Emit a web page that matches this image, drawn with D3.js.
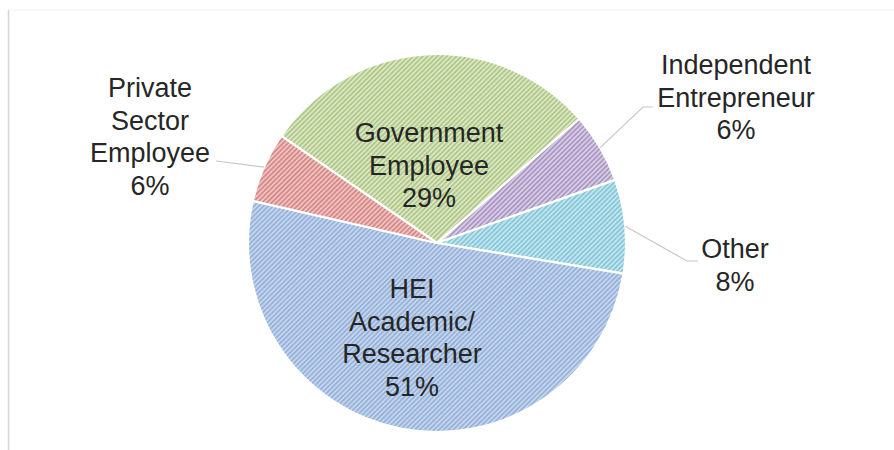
<!DOCTYPE html>
<html>
<head>
<meta charset="utf-8">
<script src="https://cdn.jsdelivr.net/npm/d3@7"></script>
<style>
  body { margin: 0; background: #fff; }
  svg { display: block; }
  text { font-family: "Liberation Sans", Arial, sans-serif; fill: #262626; }
</style>
</head>
<body>
<svg width="894" height="450"></svg>
<script>
// data, clockwise from the Government slice
var categories = ["Government Employee", "Independent Entrepreneur", "Other", "HEI Academic/ Researcher", "Private Sector Employee"];
var values = [29, 6, 8, 51, 6];
var labelLines = [
    ["Government", "Employee", "29%"],
    ["Independent", "Entrepreneur", "6%"],
    ["Other", "8%"],
    ["HEI", "Academic/", "Researcher", "51%"],
    ["Private", "Sector", "Employee", "6%"]
];

var bgColors = ["#dae6c4", "#d6cce3", "#c3e4ed", "#c4d4ea", "#eec2c1"];
var lineColors = ["#a3c076", "#9d88bd", "#74c0d5", "#88a9d8", "#d07876"];

var cx = 437, cy = 243, radius = 189;
var startDeg = -55.5;
var fontSize = 27, lineHeight = 32.5;

// label placement (first baseline, center x) and leader line shape
var labelLayout = [
    {x: 429, y: 142},
    {x: 736, y: 74, elbow: [643, 107], end: [653, 107]},
    {x: 735, y: 258, elbow: [687, 261], end: [698, 261]},
    {x: 412, y: 298},
    {x: 150, y: 97, elbow: [216, 161], end: [216, 161]}
];

var svg = d3.select("svg");
var defs = svg.append("defs");

// hatch patterns (upward diagonal)
categories.forEach(function(c, i) {
    var p = defs.append("pattern")
        .attr("id", "hatch" + i)
        .attr("patternUnits", "userSpaceOnUse")
        .attr("width", 3.4)
        .attr("height", 3.4)
        .attr("patternTransform", "rotate(45)");
    p.append("rect")
        .attr("width", 3.4).attr("height", 3.4)
        .attr("fill", bgColors[i]);
    p.append("line")
        .attr("x1", 0.8).attr("y1", 0).attr("x2", 0.8).attr("y2", 3.4)
        .attr("stroke", lineColors[i])
        .attr("stroke-width", 1.3);
});

// chart frame
svg.append("line")
    .attr("x1", 8).attr("y1", 10).attr("x2", 894).attr("y2", 10)
    .attr("stroke", "#f0f0f0").attr("stroke-width", 1);
svg.append("line")
    .attr("x1", 8.5).attr("y1", 10).attr("x2", 8.5).attr("y2", 450)
    .attr("stroke", "#d6d6d6").attr("stroke-width", 1.5);

var pie = d3.pie()
    .sort(null)
    .value(function(d) { return d; })
    .startAngle(startDeg * Math.PI / 180)
    .endAngle(startDeg * Math.PI / 180 + 2 * Math.PI);

var arcs = pie(values);
var arc = d3.arc().innerRadius(0).outerRadius(radius);

var g = svg.append("g").attr("transform", "translate(" + cx + "," + cy + ")");

g.selectAll("path.slice")
    .data(arcs)
    .enter()
    .append("path")
    .attr("class", "slice")
    .attr("d", arc)
    .attr("fill", function(d, i) { return "url(#hatch" + i + ")"; })
    .attr("stroke", "#ffffff")
    .attr("stroke-width", 2.2)
    .attr("stroke-linejoin", "round");

// leader lines
arcs.forEach(function(d, i) {
    var lay = labelLayout[i];
    if (!lay.elbow) return;
    var mid = (d.startAngle + d.endAngle) / 2;
    var sx = cx + radius * Math.sin(mid);
    var sy = cy - radius * Math.cos(mid);
    var pts = [[sx, sy], lay.elbow, lay.end];
    svg.append("path")
        .attr("d", d3.line()(pts))
        .attr("fill", "none")
        .attr("stroke", "#c8c8c8")
        .attr("stroke-width", 1.2);
});

// labels
labelLines.forEach(function(lines, i) {
    var lay = labelLayout[i];
    var t = svg.append("text")
        .attr("text-anchor", "middle")
        .style("font-size", fontSize + "px");
    lines.forEach(function(line, j) {
        t.append("tspan")
            .attr("x", lay.x)
            .attr("y", lay.y + j * lineHeight)
            .text(line);
    });
});
</script>
</body>
</html>
